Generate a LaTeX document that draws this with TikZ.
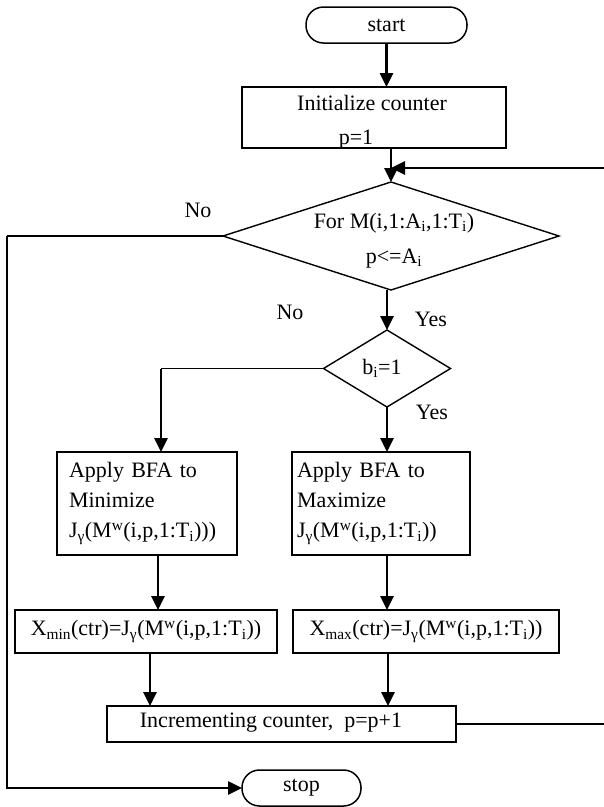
\documentclass[tikz,border=0pt]{standalone}
\usepackage{fontspec}
\setmainfont{Liberation Serif}
\usetikzlibrary{arrows.meta,shapes.geometric}
\begin{document}
\begin{tikzpicture}[x=1pt,y=-1pt,
 box/.style={draw, line width=1.8pt, inner sep=0pt, outer sep=0pt},
 term/.style={draw, line width=1.5pt, rounded corners=17.5pt, inner sep=0pt, outer sep=0pt, minimum height=36pt},
 dia/.style={draw, diamond, line width=1.4pt, inner sep=0pt, outer sep=0pt},
 arr/.style={line width=2.6pt, -{Triangle[length=14pt,width=13pt]}},
 conn/.style={line width=1.6pt},
 lbl/.style={inner sep=0pt},
 font=\fontsize{22}{30}\selectfont]
\useasboundingbox (0,0) rectangle (604,807);
\clip (0,0) rectangle (604,807);
% nodes
\node[term, minimum width=161pt] (start) at (386.5,25) {start};
\node[box, minimum width=264pt, minimum height=61pt] (init) at (374,117.5) {};
\node[lbl, align=center, font=\fontsize{22}{34}\selectfont] (initt) at (372,122) {Initialize counter\\p=1\hspace*{32pt}};
\node[dia, minimum width=336pt, minimum height=108pt] (d1) at (391,236) {};
\node[lbl, align=center, font=\fontsize{22}{35}\selectfont] (d1t) at (394,241) {For M(i,1:A\textsubscript{i},1:T\textsubscript{i})\\p<=A\textsubscript{i}};
\node[dia, minimum width=127pt, minimum height=77pt] (b) at (387,368.5) {};
\node[lbl] (bt) at (382,368) {b\textsubscript{i}=1};
\node[box, minimum width=180pt, minimum height=103pt, text width=156pt, inner xsep=12pt, align=left] (min) at (147,503.5) {Apply BFA to\\Minimize\\J\textsubscript{γ}(M\textsuperscript{w}(i,p,1:T\textsubscript{i})))};
\node[box, minimum width=178pt, minimum height=103pt, text width=168pt, inner xsep=5pt, align=left] (max) at (381,503.5) {Apply BFA to\\Maximize\\J\textsubscript{γ}(M\textsuperscript{w}(i,p,1:T\textsubscript{i}))};
\node[box, minimum width=262pt, minimum height=43pt] (xmin) at (146,631.5) {X\textsubscript{min}(ctr)=J\textsubscript{γ}(M\textsuperscript{w}(i,p,1:T\textsubscript{i}))};
\node[box, minimum width=266pt, minimum height=43pt] (xmax) at (426,631.5) {X\textsubscript{max}(ctr)=J\textsubscript{γ}(M\textsuperscript{w}(i,p,1:T\textsubscript{i}))};
\node[box, minimum width=349pt, minimum height=36pt] (inc) at (281.5,724) {};
\node[lbl] (inct) at (271,723) {Incrementing counter,\ \ p=p+1};
\node[term, minimum width=119pt] (stop) at (301.5,788) {stop};
% labels
\node[lbl] (no1) at (198,210) {No};
\node[lbl] (no2) at (290,312) {No};
\node[lbl] (yes1) at (431,319) {Yes};
\node[lbl] (yes2) at (432,412) {Yes};
% helper coordinates
\coordinate (loop) at (391,168);
\coordinate (re) at (606,0);
\coordinate (le) at (7,0);
\coordinate (bl) at (161,368.5);
% connectors
\draw[arr] (start) -- (start |- init.north);
\draw[arr] (init.south -| d1) -- (d1.north);
\draw[arr] (inc.east) -- (inc.east -| re) -- (re |- loop) -- (loop);
\draw[arr] (d1.south -| b) -- (b.north);
\draw[conn] (d1.west) -- (d1.west -| le);
\draw[arr] (d1.west -| le) -- (le |- stop) -- (stop.west);
\draw[conn] (b.west) -- (bl);
\draw[arr] (bl) -- (bl |- min.north);
\draw[arr] (b.south) -- (b.south |- max.north);
\draw[arr] ([xshift=11pt]min.south) -- ([xshift=11pt]min.south |- xmin.north);
\draw[arr] ([xshift=6pt]max.south) -- ([xshift=6pt]max.south |- xmax.north);
\draw[arr] ([xshift=4pt]xmin.south) -- ([xshift=4pt]xmin.south |- inc.north);
\draw[arr] ([xshift=-38pt]xmax.south) -- ([xshift=-38pt]xmax.south |- inc.north);
\draw[conn] (inc.east) -- (inc.east -| re);
\end{tikzpicture}
\end{document}
